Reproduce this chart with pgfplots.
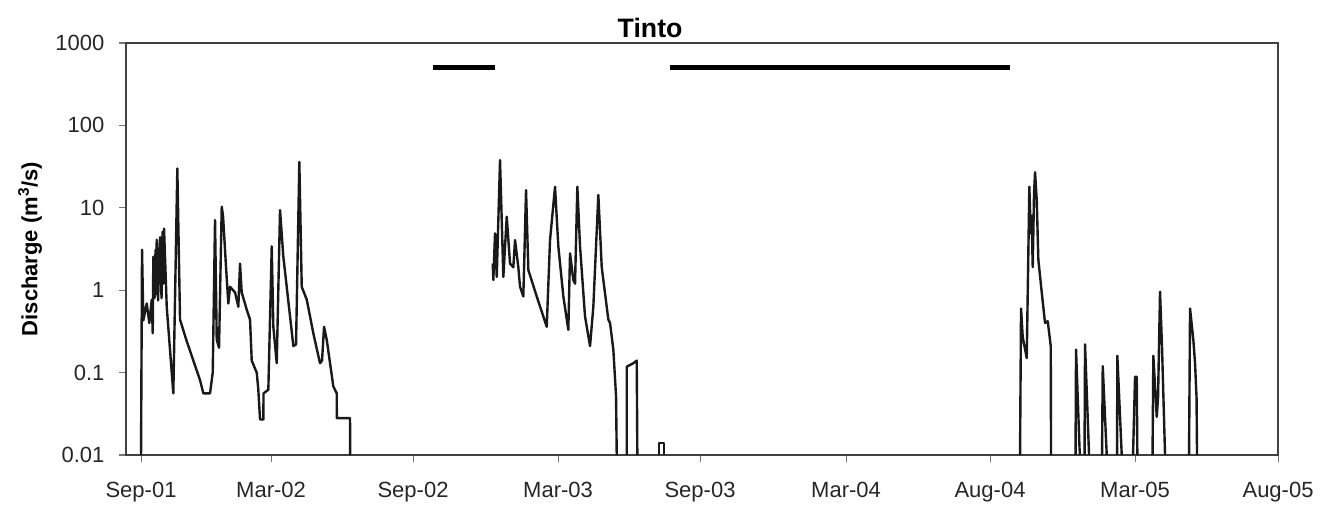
\documentclass[border=0pt]{standalone}
\usepackage{pgfplots}
\pgfplotsset{compat=1.18}
\usepackage{fontspec}
\setmainfont{Liberation Sans}
\begin{document}
\begin{tikzpicture}
\begin{axis}[
  scale only axis, width=864pt, height=309pt,
  xmin=126, xmax=1278, ymode=log, ymin=0.01, ymax=1000,
  xtick={141,271,413,558,700,846,990,1135,1278},
  xticklabels={Sep-01,Mar-02,Sep-02,Mar-03,Sep-03,Mar-04,Aug-04,Mar-05,Aug-05},
  ytick={0.01,0.1,1,10,100,1000},
  yticklabels={0.01,0.1,1,10,100,1000},
  xminorticks=false, yminorticks=false,
  tick align=outside, tick pos=left,
  major tick length=5pt,
  axis line style={black!75, line width=1.4pt},
  every tick/.style={black!55, line width=0.8pt},
  ticklabel style={font=\fontsize{16.5}{19}\selectfont, text=black!85},
  xticklabel style={inner sep=0pt, anchor=north, yshift=-15pt},
  yticklabel style={inner sep=0pt, anchor=east, xshift=-11pt},
  clip=false,
  q/.style={black!90, line width=1.8pt, mark=none, line join=round},
]
% segment Sep-01 to Jul-02
\addplot[q] coordinates {
(141,0.01)(142,3.1)(143.3,0.43)(146.7,0.69)(149.3,0.40)(151.7,0.77)(152.7,0.30)(153.3,2.55)
(154.5,0.8)(155.5,3.1)(156,0.9)(156.7,4.1)(158,0.75)(160,4.4)(161.5,0.8)(162.5,5.1)(163.2,1.2)(164,5.6)
(166.7,0.63)(171.7,0.1)(173.3,0.056)(177.3,30)(180,0.44)(186.7,0.24)(189,0.2)(193.3,0.14)
(200,0.081)(203.3,0.056)(210,0.056)(212.7,0.1)(215,7.1)(216.7,0.25)(219,0.2)(221.7,10.3)(223,8)
(226,1.9)(228.3,0.69)(230,1.1)(235,0.94)(238.3,0.63)(240,2.1)(241.7,0.94)(246.7,0.58)(250,0.44)
(251.7,0.14)(256.7,0.1)(258.3,0.062)(260,0.027)(263.3,0.027)(263.5,0.056)(268.3,0.062)
(271.7,3.4)(273.3,0.36)(276.7,0.13)(280,9.4)(283.3,2.55)(286.7,1.1)(293.3,0.21)(296,0.22)
(299.3,36)(301.7,1.1)(306.7,0.77)(313.3,0.3)(318.3,0.16)(320,0.13)(322,0.14)(324,0.36)(326.7,0.25)
(333.3,0.068)(336.7,0.056)(336.8,0.028)(350,0.028)(350.1,0.01)
};
% segment Oct-02 to Jun-03
\addplot[q] coordinates {
(492.7,2.1)(493.3,1.33)(495,4.9)(496.7,1.45)(500,38)(503.3,1.45)(506.7,7.8)(510,2.1)(513.3,1.9)
(515,4.07)(518.3,1.9)(520,1.1)(523.3,0.84)(526,16.4)(528.3,1.76)(536.7,0.84)(546.7,0.36)(550,4.07)
(555,18)(558.3,3.4)(563.3,0.84)(568.3,0.33)(570,2.8)(573.3,1.33)(575,1.2)(577.3,18)(580,3.4)
(585,0.48)(590,0.21)(593.3,0.63)(598.3,14.3)(601.7,1.9)(608.3,0.44)(610,0.4)(613.3,0.19)
(616,0.052)(616.7,0.01)
};
\addplot[q] coordinates {(626.7,0.01)(626.7,0.118)(633.3,0.13)(636.7,0.14)(637.3,0.01)};
\addplot[q] coordinates {(659,0.01)(659,0.014)(664,0.014)(664,0.01)};
% segment Sep-04 onwards
\addplot[q] coordinates {
(1020,0.01)(1021,0.6)(1022.7,0.27)(1026.7,0.15)(1029.3,18)(1030.7,4.9)(1031.5,8)(1032.7,1.9)
(1034,15)(1035,27)(1036.7,12.4)(1038.3,2.35)(1041.7,0.94)(1045,0.4)(1047.7,0.42)(1050.7,0.21)(1051,0.01)
};
\addplot[q] coordinates {(1075.5,0.01)(1076,0.19)(1079.5,0.012)(1080,0.01)};
\addplot[q] coordinates {(1084.5,0.01)(1085,0.22)(1089,0.01)};
\addplot[q] coordinates {(1102,0.01)(1102.7,0.12)(1106.7,0.01)};
\addplot[q] coordinates {(1117,0.01)(1117.3,0.16)(1121.7,0.01)};
\addplot[q] coordinates {(1133,0.01)(1135,0.089)(1136.7,0.089)(1137.3,0.01)};
\addplot[q] coordinates {(1152.5,0.01)(1153.3,0.16)(1156.7,0.029)(1158,0.05)(1160,0.96)(1162,0.2)(1165,0.01)};
\addplot[q] coordinates {(1189,0.01)(1190,0.6)(1193.3,0.25)(1195,0.13)(1196.5,0.05)(1197,0.01)};
% periods bars
\addplot[black, line width=3.8pt, mark=none] coordinates {(433,500)(495,500)};
\addplot[black, line width=3.8pt, mark=none] coordinates {(670,500)(1010,500)};
% title and label
\node[font=\fontsize{20}{24}\selectfont\bfseries] at (rel axis cs:0.4549,1.0364) {Tinto};
\node[font=\fontsize{16.5}{19}\selectfont\bfseries, rotate=90] at (rel axis cs:-0.0833,0.5) {Discharge (m\textsuperscript{3}/s)};
\path (rel axis cs:-0.1094,-0.1529) rectangle (rel axis cs:1.0399,1.1044);
\end{axis}
\end{tikzpicture}
\end{document}
